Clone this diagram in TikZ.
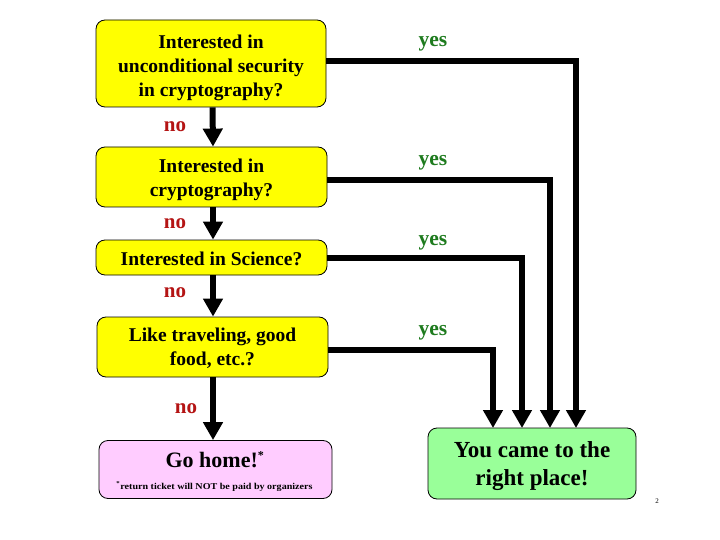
\documentclass[tikz,border=0pt]{standalone}
\usepackage{fontspec}
\usepackage{graphicx}
\setmainfont{Liberation Serif}
\usetikzlibrary{arrows.meta}
\definecolor{boxyellow}{HTML}{FFFF00}
\definecolor{boxpink}{HTML}{FFCCFF}
\definecolor{boxgreen}{HTML}{99FF99}
\definecolor{yesgreen}{HTML}{1E7B1E}
\definecolor{nored}{HTML}{B41414}
\begin{document}
\begin{tikzpicture}[x=1pt,y=-1pt,
  qbox/.style={draw=black, line width=0.8pt, rounded corners=9pt, fill=boxyellow, inner sep=0pt},
  qtext/.style={anchor=base, align=center, inner sep=0pt, font=\fontsize{19.5}{24.3}\selectfont\bfseries},
  flow/.style={line width=6pt, -{Triangle[width=19pt,length=18pt]}},
  yeslab/.style={anchor=base, text=yesgreen, font=\fontsize{21.5}{24}\selectfont\bfseries, inner sep=0pt},
  nolab/.style={anchor=base, text=nored, font=\fontsize{21}{24}\selectfont\bfseries, inner sep=0pt}
]
\useasboundingbox (0,0) rectangle (720,540);

\node[qbox, minimum width=230pt, minimum height=87pt] (b1) at (211,63.5) {};
\node[qtext] (b1t) at (211,96.8) {Interested in\\unconditional security\\in cryptography?};
\node[qbox, minimum width=231pt, minimum height=60pt] (b2) at (211.5,177) {};
\node[qtext] (b2t) at (211.5,196.5) {Interested in\\cryptography?};
\node[qbox, minimum width=231pt, minimum height=35pt] (b3) at (211.5,257.5) {};
\node[qtext] (b3t) at (211.5,265) {Interested in Science?};
\node[qbox, minimum width=231pt, minimum height=60pt] (b4) at (212.5,347) {};
\node[qtext] (b4t) at (212.5,365.5) {Like traveling, good\\food, etc.?};

\node[draw=black, line width=0.8pt, rounded corners=9pt, fill=boxpink,
  minimum width=233pt, minimum height=58pt] (home) at (215.5,469.5) {};
\node[anchor=base, inner sep=0pt, font=\fontsize{22}{26}\selectfont\bfseries] (hometxt) at (215,467)
  {Go home!\textsuperscript{\fontsize{12}{12}\selectfont *}};
\node[anchor=base, inner sep=0pt, font=\fontsize{9}{10}\selectfont\bfseries] (homenote) at (214.5,489.5)
  {\scalebox{1.12}[1]{\textsuperscript{*}return ticket will NOT be paid by organizers}};

\node[draw=black, line width=0.8pt, rounded corners=9pt, fill=boxgreen,
  minimum width=208pt, minimum height=71pt] (good) at (532,463.5) {};
\node[anchor=base, align=center, inner sep=0pt, font=\fontsize{23}{27.7}\selectfont\bfseries]
  (goodt) at (532,485) {You came to the\\right place!};

\coordinate (t1) at (576,428);
\coordinate (t2) at (550,428);
\coordinate (t3) at (522,428);
\coordinate (t4) at (493,428);

\draw[flow] ([xshift=1.5pt]b1.south) -- ([xshift=1.5pt]b2.north);
\draw[flow] ([xshift=1.5pt]b2.south) -- ([xshift=1.5pt]b3.north);
\draw[flow] ([xshift=1.5pt]b3.south) -- ([xshift=0.5pt]b4.north);
\draw[flow] ([xshift=0.5pt]b4.south) -- ([xshift=-2.5pt]home.north);

\draw[flow] ([yshift=2.5pt]b1.east) -| (t1);
\draw[flow] ([yshift=-3pt]b2.east) -| (t2);
\draw[flow] ([yshift=-0.5pt]b3.east) -| (t3);
\draw[flow] ([yshift=-3pt]b4.east) -| (t4);

\node[yeslab] (y1) at (433,46.5) {yes};
\node[yeslab] (y2) at (433,166) {yes};
\node[yeslab] (y3) at (433,245) {yes};
\node[yeslab] (y4) at (433,335.5) {yes};

\node[nolab] (n1) at (175,132) {no};
\node[nolab] (n2) at (175,229) {no};
\node[nolab] (n3) at (175,297) {no};
\node[nolab] (n4) at (186,413) {no};

\node[anchor=base, inner sep=0pt, font=\fontsize{7}{8}\selectfont] (pg) at (657,503) {2};
\end{tikzpicture}
\end{document}
